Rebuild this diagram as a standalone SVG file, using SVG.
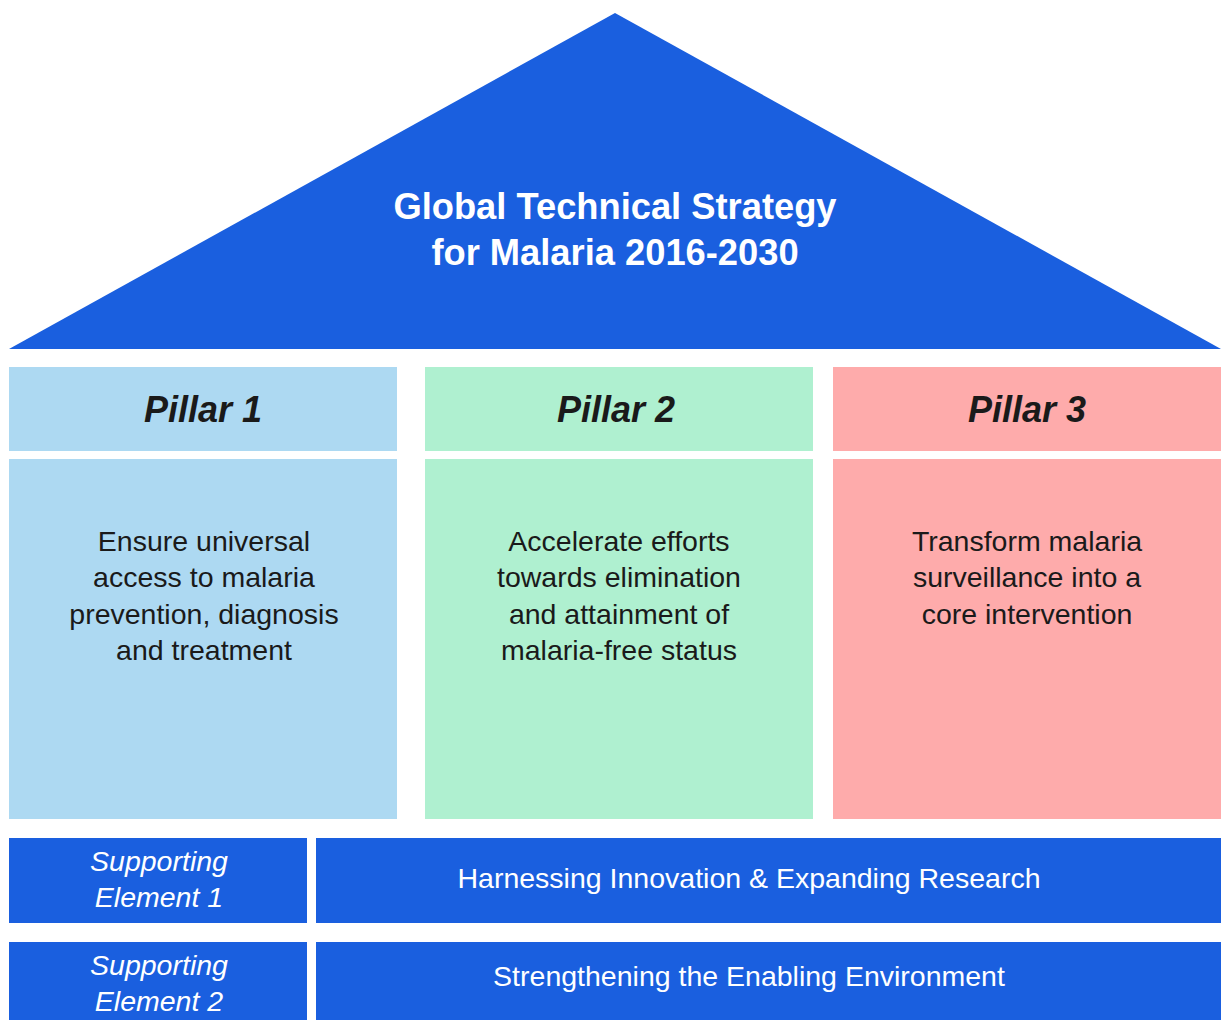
<svg xmlns="http://www.w3.org/2000/svg" width="1227" height="1020" viewBox="0 0 1227 1020">
<style>
.blue{fill:#1a5fdf}
.p1{fill:#add9f2}
.p2{fill:#aff0d0}
.p3{fill:#feabab}
.title{font-family:"Liberation Sans",Arial,sans-serif;font-weight:bold;font-size:36.3px;fill:#ffffff;text-anchor:middle}
.ph{font-family:"Liberation Sans",Arial,sans-serif;font-weight:bold;font-style:italic;font-size:36px;fill:#1a1a1a;text-anchor:middle}
.pb{font-family:"Liberation Sans",Arial,sans-serif;font-size:28.5px;fill:#1a1a1a;text-anchor:middle}
.se{font-family:"Liberation Sans",Arial,sans-serif;font-style:italic;font-size:28.5px;fill:#ffffff;text-anchor:middle}
.st{font-family:"Liberation Sans",Arial,sans-serif;font-size:28.5px;fill:#ffffff;text-anchor:middle}
</style>
<rect width="1227" height="1020" fill="#ffffff"/>
<g id="roof">
<polygon class="blue" points="615,13 1221,349 9,349"/>
<text class="title" x="615" y="219">Global Technical Strategy</text>
<text class="title" x="615" y="265">for Malaria 2016-2030</text>
</g>
<g id="pillar1">
<rect class="p1" x="9" y="367" width="388" height="84"/>
<text class="ph" x="203" y="422">Pillar 1</text>
<rect class="p1" x="9" y="459" width="388" height="360"/>
<text class="pb" x="204" y="551">Ensure universal</text>
<text class="pb" x="204" y="587">access to malaria</text>
<text class="pb" x="204" y="624">prevention, diagnosis</text>
<text class="pb" x="204" y="660">and treatment</text>
</g>
<g id="pillar2">
<rect class="p2" x="425" y="367" width="388" height="84"/>
<text class="ph" x="616" y="422">Pillar 2</text>
<rect class="p2" x="425" y="459" width="388" height="360"/>
<text class="pb" x="619" y="551">Accelerate efforts</text>
<text class="pb" x="619" y="587">towards elimination</text>
<text class="pb" x="619" y="624">and attainment of</text>
<text class="pb" x="619" y="660">malaria-free status</text>
</g>
<g id="pillar3">
<rect class="p3" x="833" y="367" width="388" height="84"/>
<text class="ph" x="1027" y="422">Pillar 3</text>
<rect class="p3" x="833" y="459" width="388" height="360"/>
<text class="pb" x="1027" y="551">Transform malaria</text>
<text class="pb" x="1027" y="587">surveillance into a</text>
<text class="pb" x="1027" y="624">core intervention</text>
</g>
<g id="support1">
<rect class="blue" x="9" y="838" width="298" height="85"/>
<text class="se" x="159" y="871">Supporting</text>
<text class="se" x="159" y="907">Element 1</text>
<rect class="blue" x="316" y="838" width="905" height="85"/>
<text class="st" x="749" y="888">Harnessing Innovation &amp; Expanding Research</text>
</g>
<g id="support2">
<rect class="blue" x="9" y="942" width="298" height="85"/>
<text class="se" x="159" y="975">Supporting</text>
<text class="se" x="159" y="1011">Element 2</text>
<rect class="blue" x="316" y="942" width="905" height="85"/>
<text class="st" x="749" y="986">Strengthening the Enabling Environment</text>
</g>
<g id="connectors"/>
</svg>
